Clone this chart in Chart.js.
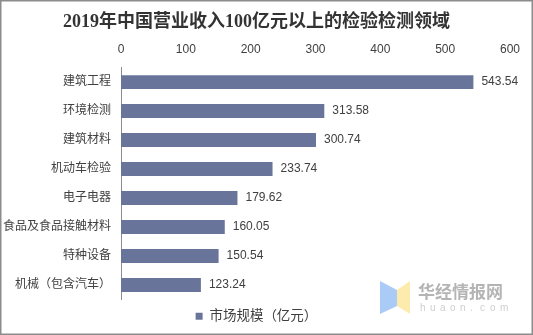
<!DOCTYPE html>
<html lang="zh">
  <head>
    <meta charset="utf-8">
    <title>检验检测领域营业收入</title>
    <style>
      body { margin: 0; background: #fff; }
    </style>
  </head>
  <body>
    <canvas id="myChart" width="533" height="335"></canvas>

    <script src="https://cdn.jsdelivr.net/npm/chart.js"></script>

    <script>
      // 营业收入100亿元以上的检验检测领域（单位：亿元）
      var categories = ["建筑工程", "环境检测", "建筑材料", "机动车检验", "电子电器", "食品及食品接触材料", "特种设备", "机械（包含汽车）"];
      var revenue = [543.54, 313.58, 300.74, 233.74, 179.62, 160.05, 150.54, 123.24];
      var xMin = 0, xMax = 600, xStep = 100;

      var baseFont = "'Liberation Sans', 'Noto Sans CJK SC', sans-serif";

      // value text to the right of each bar
      var valueLabels = {
        id: "valueLabels",
        afterDatasetsDraw: function (chart) {
          var ctx = chart.ctx;
          var meta = chart.getDatasetMeta(0);
          ctx.save();
          ctx.font = "12px " + baseFont;
          ctx.fillStyle = "#404040";
          ctx.textAlign = "left";
          ctx.textBaseline = "middle";
          meta.data.forEach(function (bar, i) {
            ctx.fillText(revenue[i].toFixed(2), bar.x + 8, bar.y);
          });
          ctx.restore();
        },
      };

      // frame and site mark
      var frame = {
        id: "frame",
        afterDraw: function (chart) {
          var ctx = chart.ctx;
          ctx.save();
          // logo
          ctx.fillStyle = "rgba(150,190,245,0.8)";
          ctx.beginPath();
          ctx.moveTo(380, 281);
          ctx.lineTo(397, 290);
          ctx.lineTo(397, 306);
          ctx.lineTo(380, 314);
          ctx.closePath();
          ctx.fill();
          ctx.fillStyle = "rgba(253,232,160,0.85)";
          ctx.beginPath();
          ctx.moveTo(397, 290);
          ctx.lineTo(410, 281);
          ctx.lineTo(410, 314);
          ctx.lineTo(397, 306);
          ctx.closePath();
          ctx.fill();
          ctx.fillStyle = "#b4b4b4";
          ctx.font = "bold 17px 'Noto Sans CJK SC', sans-serif";
          ctx.textBaseline = "middle";
          ctx.fillText("华经情报网", 418, 292);
          ctx.fillStyle = "#cfcfcf";
          ctx.font = "10px " + baseFont;
          var site = "huaon.com";
          for (var k = 0; k < site.length; k++) {
            ctx.fillText(site[k], 420 + k * 10, 308);
          }
          // outer border
          ctx.strokeStyle = "#8c8c8c";
          ctx.lineWidth = 1.5;
          ctx.strokeRect(0.75, 0.75, 531.5, 333.5);
          ctx.restore();
        },
      };

      const ctx = document.getElementById("myChart");
      new Chart(ctx, {
        type: "bar",
        data: {
          labels: categories,
          datasets: [
            {
              label: "市场规模（亿元）",
              data: revenue,
              backgroundColor: "#68749a",
              categoryPercentage: 1,
              barPercentage: 0.48,
            },
          ],
        },
        options: {
          indexAxis: "y",
          responsive: false,
          animation: false,
          layout: {
            padding: { left: 3, right: 23, top: 0, bottom: 2 },
          },
          plugins: {
            title: {
              display: true,
              text: "2019年中国营业收入100亿元以上的检验检测领域",
              color: "#333",
              font: { family: "'Liberation Serif', 'Noto Sans CJK SC', serif", size: 18, weight: "bold" },
              padding: { top: 12, bottom: 5 },
            },
            legend: {
              position: "bottom",
              labels: {
                color: "#404040",
                font: { family: baseFont, size: 13.5 },
                boxWidth: 7,
                boxHeight: 7,
                padding: 10,
              },
            },
            tooltip: { enabled: false },
          },
          scales: {
            x: {
              position: "top",
              min: xMin,
              max: xMax,
              ticks: {
                stepSize: xStep,
                color: "#404040",
                font: { family: baseFont, size: 12 },
                padding: 11,
              },
              grid: { display: false, drawTicks: false },
              border: { display: false },
              afterFit: function (scale) {
                scale.height = 29;
              },
            },
            y: {
              ticks: {
                color: "#404040",
                font: { family: baseFont, size: 12 },
                padding: 10,
              },
              grid: { display: false, drawTicks: false },
              border: { display: true, color: "#8c8c8c", width: 1 },
              afterFit: function (scale) {
                scale.width = 118;
              },
            },
          },
        },
        plugins: [valueLabels, frame],
      });
    </script>
  </body>
</html>
